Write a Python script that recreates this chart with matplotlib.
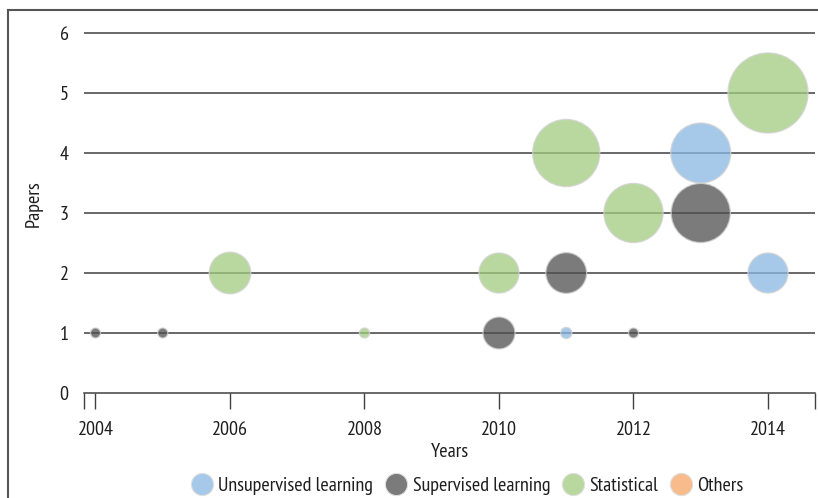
import matplotlib
matplotlib.use("Agg")
import matplotlib.pyplot as plt
from matplotlib.lines import Line2D
import numpy as np

plt.rcParams['font.family'] = ['PT Sans Narrow', 'DejaVu Sans']

# ---- data ----
unsup_years = [2011, 2013, 2014]
unsup_papers = [1, 4, 2]
unsup_bubble = [1.4, 7.5, 5.0]

sup_years = [2004, 2005, 2010, 2011, 2012, 2013]
sup_papers = [1, 1, 1, 2, 1, 3]
sup_bubble = [1.25, 1.25, 4.0, 5.1, 1.25, 7.4]

stat_years = [2006, 2008, 2010, 2011, 2012, 2014]
stat_papers = [2, 1, 2, 4, 3, 5]
stat_bubble = [5.2, 1.25, 5.0, 8.4, 7.4, 10.0]

other_years = []
other_papers = []
other_bubble = []

series_names = ["Unsupervised learning", "Supervised learning", "Statistical", "Others"]
x_ticks = [2004, 2006, 2008, 2010, 2012, 2014]
y_ticks = [0, 1, 2, 3, 4, 5, 6]

# display colours (as seen over white) and drawing alpha
shown_colors = ["#a7c9e9", "#7b7b7b", "#b9d89f", "#f7bb8c"]
ALPHA = 0.75


def base_color(hexc, a=ALPHA):
    rgb = np.array([int(hexc[i:i + 2], 16) for i in (1, 3, 5)]) / 255.0
    b = (rgb - (1 - a)) / a
    return tuple(np.clip(b, 0, 1))


W, H, DPI = 818, 498, 100
fig = plt.figure(figsize=(W / DPI, H / DPI), dpi=DPI)

ax_left, ax_right = 84, 815
ax_bottom, ax_top = 393, 15
ax = fig.add_axes([ax_left / W, 1 - ax_bottom / H, (ax_right - ax_left) / W, (ax_bottom - ax_top) / H])

x_lo, x_hi = 2003.829, 2014.699
ax.set_xlim(x_lo, x_hi)
ax.set_ylim(0, 6.3)

px_to_pt = 72.0 / DPI
DIAM_PER_UNIT = 8.0  # pixels of diameter per bubble unit


def sizes(vals):
    return [(v * DIAM_PER_UNIT * px_to_pt) ** 2 for v in vals]


grid_color = "#404040"
for yv in y_ticks[1:]:
    ax.axhline(yv, color=grid_color, lw=1.1, zorder=1)

all_series = [
    (unsup_years, unsup_papers, unsup_bubble),
    (sup_years, sup_papers, sup_bubble),
    (stat_years, stat_papers, stat_bubble),
    (other_years, other_papers, other_bubble),
]
for (xs, ys, bs), col in zip(all_series, shown_colors):
    if len(xs) == 0:
        continue
    ax.scatter(xs, ys, s=sizes(bs), color=base_color(col), alpha=ALPHA,
               edgecolors="#d2d2d2", linewidths=1.0, zorder=3)

# axes styling
for sp in ["left", "right", "top"]:
    ax.spines[sp].set_visible(False)
ax.spines["bottom"].set_color(grid_color)
ax.spines["bottom"].set_linewidth(1.1)

FS = 14.5
TXT = "#1e1e1e"
ax.set_xticks(x_ticks)
ax.set_xticks([x_lo, x_hi], minor=True)
ax.tick_params(axis="x", which="both", length=11.5, width=1.0, color=grid_color,
               direction="out", labelsize=FS, pad=8.5, labelcolor=TXT)
ax.set_yticks(y_ticks)
ax.tick_params(axis="y", length=0, labelsize=FS, pad=11, labelcolor=TXT)

ax.set_xlabel("Years", fontsize=FS, color=TXT, labelpad=3)
ax.set_ylabel("Papers", fontsize=FS, color=TXT, labelpad=12)

# legend
handles = [Line2D([0], [0], marker="o", linestyle="none", markersize=16,
                  markerfacecolor=c, markeredgecolor="#e0e0e0", markeredgewidth=0.8)
           for c in shown_colors]
fig.legend(handles, series_names, loc="center", bbox_to_anchor=(468 / W, 1 - 486 / H),
           ncol=4, frameon=False, fontsize=FS, handletextpad=0.3, columnspacing=0.65,
           handlelength=1.0, labelcolor=TXT)

# outer frame (left and top edges visible)
fig.add_artist(Line2D([8 / W, 8 / W], [0, 1 - 10 / H], transform=fig.transFigure,
                      color="#555555", lw=1.5))
fig.add_artist(Line2D([8 / W, 1], [1 - 10 / H, 1 - 10 / H], transform=fig.transFigure,
                      color="#555555", lw=1.5))

fig.savefig("out.png", dpi=DPI)
